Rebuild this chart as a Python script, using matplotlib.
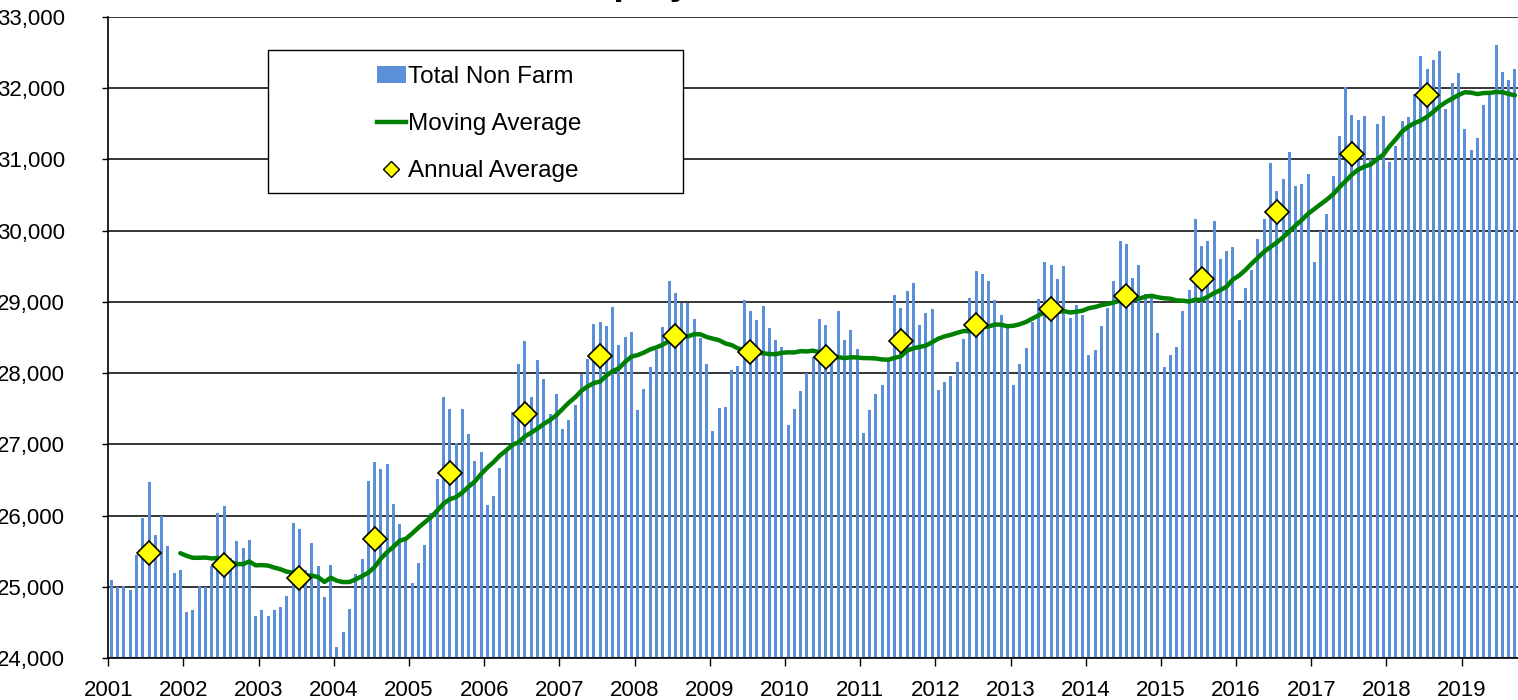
import matplotlib
matplotlib.use("Agg")
import matplotlib.pyplot as plt
from matplotlib.patches import Rectangle, Patch
from matplotlib.lines import Line2D
import numpy as np
import pandas as pd

# monthly total non farm jobs, Jan 2001 - Sep 2019 (one row per year)
total_non_farm = [
    25090, 25000, 25010, 24960, 25440, 25960, 26470, 25720, 26000, 25570, 25200, 25240,
    24640, 24670, 25010, 25000, 25290, 26030, 26140, 25400, 25640, 25550, 25660, 24590,
    24670, 24590, 24670, 24720, 24870, 25900, 25810, 25230, 25620, 25290, 24850, 25310,
    24150, 24370, 24690, 25180, 25390, 26490, 26750, 26650, 26730, 26160, 25880, 25640,
    25060, 25340, 25580, 26030, 26520, 27660, 27490, 27020, 27490, 27150, 26760, 26890,
    26150, 26280, 26670, 26890, 27450, 28130, 28450, 27660, 28180, 27920, 27420, 27700,
    27220, 27340, 27550, 27990, 28200, 28690, 28720, 28660, 28930, 28390, 28510, 28580,
    27480, 27770, 28080, 28330, 28650, 29290, 29130, 28990, 28980, 28760, 28500, 28130,
    27190, 27510, 27530, 28050, 28100, 29030, 28870, 28740, 28940, 28630, 28470, 28360,
    27270, 27490, 27750, 28000, 28230, 28760, 28670, 28190, 28870, 28470, 28600, 28340,
    27160, 27480, 27700, 27830, 28180, 29090, 28920, 29150, 29270, 28680, 28850, 28900,
    27760, 27870, 27960, 28160, 28480, 29060, 29430, 29390, 29300, 29030, 28820, 28640,
    27840, 28130, 28350, 28720, 29040, 29560, 29520, 29320, 29500, 28770, 28950, 28820,
    28260, 28330, 28660, 28920, 29300, 29850, 29810, 29340, 29520, 29110, 29110, 28570,
    28090, 28260, 28370, 28870, 29160, 30160, 29790, 29860, 30140, 29600, 29710, 29770,
    28750, 29200, 29450, 29880, 30160, 30950, 30550, 30720, 31110, 30630, 30650, 30800,
    29560, 30000, 30240, 30770, 31330, 32020, 31620, 31560, 31610, 31000, 31500, 31610,
    30960, 31190, 31540, 31600, 31920, 32450, 32270, 32400, 32520, 31710, 32080, 32210,
    31430, 31130, 31300, 31770, 31950, 32600, 32230, 32120, 32270,
]

annual_years = list(range(2001, 2019))
annual_average = [25470, 25310, 25130, 25670, 26600, 27420, 28240, 28520, 28300,
                  28220, 28450, 28670, 28900, 29080, 29320, 30260, 31070, 31910]

year_ticks = list(range(2001, 2020))
y_ticks = list(range(24000, 33001, 1000))

dates = pd.date_range("2001-01-01", periods=len(total_non_farm), freq="MS")
df = pd.DataFrame({"jobs": total_non_farm}, index=dates)
df["x"] = df.index.year + (df.index.month - 0.5) / 12.0
df["moving_avg"] = df["jobs"].rolling(12).mean()

TXT = ["Liberation Sans", "DejaVu Sans"]

fig = plt.figure(figsize=(15.18, 7.0), dpi=100)
ax = fig.add_axes([108.3 / 1518, 42 / 700, 1 - 108.3 / 1518, 641 / 700])

ax.bar(df["x"], df["jobs"], width=0.48 / 12, color="#5b8fd8", zorder=2)
ax.plot(df["x"], df["moving_avg"], color="#008000", lw=3.2, zorder=3,
        solid_capstyle="round")
ax.plot(np.array(annual_years) + 6.5 / 12, annual_average, ls="none", marker="D",
        ms=12.5, mfc="#ffff00", mec="black", mew=1.2, zorder=4)

ax.set_xlim(2001, 2019.75)
ax.set_ylim(24000, 33000)
ax.set_yticks(y_ticks)
ax.set_yticklabels([f"{v:,}" for v in y_ticks], family=TXT, fontsize=16)
ax.set_xticks(year_ticks)
ax.set_xticklabels([str(y) for y in year_ticks], family=TXT, fontsize=16)
ax.tick_params(axis="y", length=4, width=1, pad=27, direction="out")
ax.tick_params(axis="x", length=6, width=1, pad=10, direction="out")

ax.yaxis.grid(True, color="black", lw=1.1)
ax.set_axisbelow(True)
for s in ["right", "top"]:
    ax.spines[s].set_visible(False)
ax.spines["left"].set_linewidth(1.2)
ax.spines["bottom"].set_linewidth(1.2)

# legend box drawn separately so the entries sit centred in a wide frame
ax.add_patch(Rectangle((0.1135, 0.7254), 0.2943, 0.2231, transform=ax.transAxes,
                       facecolor="white", edgecolor="black", lw=1.0, zorder=6))
handles = [Patch(facecolor="#5b8fd8", edgecolor="none"),
           Line2D([], [], color="#008000", lw=3.2),
           Line2D([], [], ls="none", marker="D", ms=8, mfc="#ffff00", mec="black", mew=1)]
labels = ["Total Non Farm", "Moving Average", "Annual Average"]
leg = ax.legend(handles, labels, loc="center", bbox_to_anchor=(0.263, 0.833),
                frameon=False, prop={"family": TXT, "size": 17.5},
                handlelength=1.2, handletextpad=0.1, labelspacing=1.04)
leg.set_zorder(7)

fig.text(556 / 1518, 1.009, "Employment,", family=TXT, fontsize=27,
         fontweight="bold", ha="left", va="baseline")

fig.savefig("out.png", dpi=100)
